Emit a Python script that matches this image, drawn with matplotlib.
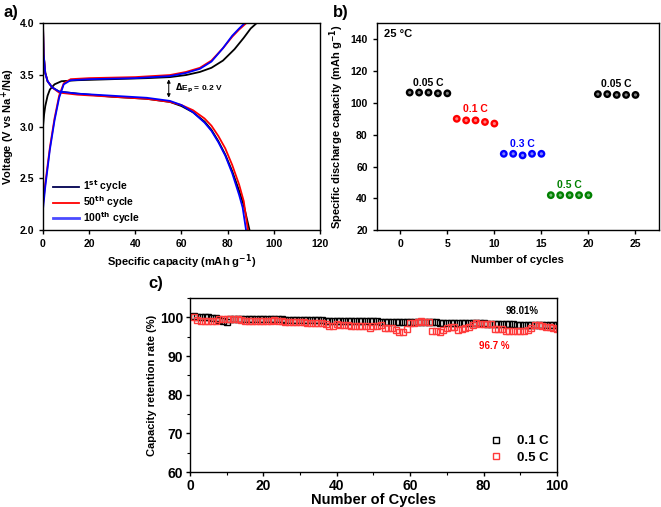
import matplotlib
matplotlib.use("Agg")
import matplotlib.pyplot as plt
from matplotlib.ticker import MultipleLocator

plt.rcParams['font.family'] = ['Liberation Sans', 'DejaVu Sans']
plt.rcParams['font.weight'] = 'bold'
plt.rcParams['axes.labelweight'] = 'bold'
plt.rcParams['mathtext.default'] = 'bf'
plt.rcParams['xtick.labelsize'] = 7.5
plt.rcParams['ytick.labelsize'] = 7.5
plt.rcParams['axes.linewidth'] = 1.0

# ---- panel a: charge / discharge profiles ----
chg1_cap = [0, 0.5, 1, 2, 3, 5, 8, 15, 30, 45, 55, 62, 68, 73, 78, 83, 87, 90, 92.5]
chg1_v = [3.0, 3.12, 3.2, 3.3, 3.36, 3.41, 3.44, 3.45, 3.46, 3.47, 3.48, 3.50, 3.53, 3.57, 3.64, 3.75, 3.86, 3.95, 4.0]
chg50_cap = [0, 1, 3, 5, 7, 9, 12, 20, 40, 55, 62, 68, 73, 78, 82, 85, 88]
chg50_v = [2.25, 2.45, 2.8, 3.08, 3.3, 3.42, 3.46, 3.47, 3.48, 3.50, 3.53, 3.57, 3.64, 3.76, 3.87, 3.94, 4.0]
chg100_cap = [0, 1, 3, 5, 7, 9, 12, 20, 40, 55, 62, 68, 73, 78, 82, 85, 87.3]
chg100_v = [2.2, 2.42, 2.78, 3.06, 3.28, 3.41, 3.45, 3.46, 3.47, 3.49, 3.52, 3.56, 3.63, 3.76, 3.88, 3.95, 4.0]

dis1_cap = [0, 0.3, 1, 2, 4, 7, 15, 30, 45, 55, 60, 65, 70, 73, 76, 79, 82, 85, 87, 89.5]
dis1_v = [4.0, 3.7, 3.52, 3.44, 3.38, 3.34, 3.32, 3.29, 3.27, 3.24, 3.20, 3.14, 3.05, 2.97, 2.86, 2.73, 2.57, 2.38, 2.24, 2.0]
dis50_cap = [0, 0.3, 1, 2, 4, 7, 15, 30, 45, 55, 60, 65, 70, 73, 76, 79, 82, 85, 87, 88.8]
dis50_v = [4.0, 3.7, 3.52, 3.44, 3.38, 3.33, 3.31, 3.29, 3.27, 3.24, 3.21, 3.16, 3.08, 3.01, 2.91, 2.79, 2.63, 2.44, 2.28, 2.0]
dis100_cap = [0, 0.3, 1, 2, 4, 7, 15, 30, 45, 55, 60, 65, 70, 73, 76, 79, 82, 85, 86.5, 88.0]
dis100_v = [4.0, 3.7, 3.52, 3.44, 3.38, 3.34, 3.32, 3.30, 3.28, 3.25, 3.21, 3.14, 3.04, 2.96, 2.85, 2.72, 2.55, 2.34, 2.22, 2.0]

# ---- panel b: rate capability ----
rate_cycles = [1, 2, 3, 4, 5, 6, 7, 8, 9, 10, 11, 12, 13, 14, 15,
               16, 17, 18, 19, 20, 21, 22, 23, 24, 25]
rate_caps = [106.5, 106.5, 106.5, 106, 106, 90, 89, 89, 88, 87,
             68, 68, 67, 68, 68, 42, 42, 42, 42, 42,
             105.5, 105.5, 105, 105, 105]
rate_labels = ['0.05 C', '0.1 C', '0.3 C', '0.5 C', '0.05 C']
rate_colors = ['black', 'red', 'blue', 'green', 'black']

# ---- panel c: cycling retention ----
cyc = list(range(1, 101))
ret_01C = [100.3, 100.2, 100.2, 100.1, 100.0, 99.9, 99.8, 99.4, 99.0, 98.9,
           99.6, 99.7, 99.7, 99.7, 99.7, 99.7, 99.6, 99.6, 99.6, 99.6,
           99.5, 99.5, 99.5, 99.5, 99.5, 99.4, 99.4, 99.4, 99.4, 99.4,
           99.3, 99.3, 99.3, 99.3, 99.3, 99.3, 99.2, 99.2, 99.2, 99.2,
           99.2, 99.1, 99.1, 99.1, 99.1, 99.1, 99.0, 99.0, 99.0, 99.0,
           99.0, 98.9, 98.9, 98.9, 98.9, 98.9, 98.8, 98.8, 98.8, 98.8,
           98.8, 98.7, 98.7, 98.7, 98.7, 98.7, 98.7, 98.6, 98.6, 98.6,
           98.6, 98.6, 98.6, 98.5, 98.5, 98.5, 98.5, 98.5, 98.5, 98.5,
           98.4, 98.4, 98.3, 98.3, 98.3, 98.2, 98.2, 98.2, 98.1, 98.1,
           98.1, 98.0, 98.0, 98.0, 98.1, 98.1, 98.1, 98.0, 98.0, 98.0]
ret_05C = [100.0, 99.3, 99.1, 99.0, 99.0, 99.0, 99.1, 99.6, 99.7, 99.7,
           99.6, 99.5, 99.5, 99.4, 99.2, 99.1, 99.2, 99.2, 99.2, 99.1,
           99.1, 99.2, 99.3, 99.2, 99.0, 98.9, 98.9, 98.9, 98.9, 98.8,
           98.8, 98.6, 98.6, 98.6, 98.5, 98.5, 98.4, 97.9, 97.9, 98.3,
           98.1, 98.0, 98.0, 97.9, 97.8, 97.8, 97.9, 97.8, 97.2, 97.7,
           97.7, 98.0, 97.2, 97.2, 97.3, 96.7, 96.3, 96.3, 97.1, 98.6,
           98.5, 98.7, 99.0, 98.9, 98.8, 96.5, 96.5, 96.2, 96.8, 97.3,
           97.5, 97.4, 96.8, 96.9, 97.2, 97.5, 98.1, 98.5, 98.4, 98.2,
           98.3, 98.4, 97.1, 97.1, 97.0, 96.5, 96.6, 96.6, 96.6, 96.5,
           96.6, 96.7, 97.3, 98.0, 98.1, 97.8, 97.6, 97.4, 97.3, 97.1]


def style_ax(ax):
    ax.tick_params(direction='out', length=3, width=1, which='major')
    ax.tick_params(direction='out', length=2, width=0.8, which='minor')


fig = plt.figure(figsize=(6.61, 5.07), dpi=100)

# panel a
ax1 = fig.add_axes([0.065, 0.546, 0.419, 0.408])
ax1.plot(chg1_cap, chg1_v, color='black', lw=1.3)
ax1.plot(dis1_cap, dis1_v, color='black', lw=1.3)
ax1.plot(chg50_cap, chg50_v, color='red', lw=1.3)
ax1.plot(dis50_cap, dis50_v, color='red', lw=1.3)
ax1.plot(chg100_cap, chg100_v, color='blue', lw=1.3)
ax1.plot(dis100_cap, dis100_v, color='blue', lw=1.3)
h1, = ax1.plot([], [], color='#000050', lw=1.3, label='1$^{st}$ cycle')
h2, = ax1.plot([], [], color='red', lw=1.3, label='50$^{th}$ cycle')
h3, = ax1.plot([], [], color='#4b4bff', lw=2.0, label='100$^{th}$ cycle')
ax1.legend(handles=[h1, h2, h3], loc='lower left', frameon=False, fontsize=7.5,
           handlelength=2.5, handletextpad=0.4, labelspacing=0.0,
           borderaxespad=0.0, bbox_to_anchor=(0.02, 0.0))
ax1.annotate('', xy=(54.5, 3.255), xytext=(54.5, 3.485),
             arrowprops=dict(arrowstyle='<|-|>', lw=0.7, color='black',
                             mutation_scale=5))
ax1.text(57, 3.37, '$\\Delta$E$_p$ = 0.2 V', fontsize=6, va='center')
ax1.set_xlim(0, 120)
ax1.set_ylim(2.0, 4.0)
ax1.xaxis.set_major_locator(MultipleLocator(20))
ax1.yaxis.set_major_locator(MultipleLocator(0.5))
ax1.set_xlabel('Specific capacity (mAh g$^{-1}$)', fontsize=8, labelpad=2)
ax1.set_ylabel('Voltage (V vs Na$^{+}$/Na)', fontsize=8, labelpad=2)
style_ax(ax1)

# panel b
ax2 = fig.add_axes([0.570, 0.546, 0.427, 0.408])
for i in range(5):
    xs = rate_cycles[i * 5:(i + 1) * 5]
    ys = rate_caps[i * 5:(i + 1) * 5]
    ax2.scatter(xs, ys, s=32, color=rate_colors[i], edgecolors='none', zorder=3)
    ax2.scatter(xs, ys, s=5, color='white', alpha=0.5, edgecolors='none', zorder=4)
    ax2.text(sum(xs) / 5, max(ys) + 3, rate_labels[i], color=rate_colors[i],
             fontsize=7.5, ha='center', va='bottom')
ax2.text(-1.7, 143, '25 °C', fontsize=8, va='center')
ax2.set_xlim(-2.5, 27.5)
ax2.set_ylim(20, 150)
ax2.xaxis.set_major_locator(MultipleLocator(5))
ax2.yaxis.set_major_locator(MultipleLocator(20))
ax2.set_xlabel('Number of cycles', fontsize=8, labelpad=4)
ax2.set_ylabel('Specific discharge capacity (mAh g$^{-1}$)', fontsize=8, labelpad=3)
style_ax(ax2)

# panel c
ax3 = fig.add_axes([0.2874, 0.069, 0.5553, 0.343])
ax3.plot(cyc, ret_01C, 's', mfc='none', mec='black', ms=4.3, mew=1.0, label='0.1 C')
ax3.plot(cyc, ret_05C, 's', mfc='none', mec='#ff3b3b', ms=4.3, mew=1.0, label='0.5 C')
ax3.text(90.5, 101.7, '98.01%', fontsize=7, ha='center', va='center')
ax3.text(83, 92.6, '96.7 %', fontsize=7, ha='center', va='center', color='red')
ax3.legend(loc='lower right', frameon=False, fontsize=9.5, handletextpad=0.6,
           labelspacing=0.35, borderaxespad=0.2)
ax3.set_xlim(0, 100)
ax3.set_ylim(60, 105)
ax3.xaxis.set_major_locator(MultipleLocator(20))
ax3.xaxis.set_minor_locator(MultipleLocator(10))
ax3.yaxis.set_major_locator(MultipleLocator(10))
ax3.yaxis.set_minor_locator(MultipleLocator(5))
ax3.set_xlabel('Number of Cycles', fontsize=10.5, labelpad=0)
ax3.set_ylabel('Capacity retention rate (%)', fontsize=8, labelpad=2)
ax3.tick_params(labelsize=10, pad=2)
style_ax(ax3)

fig.text(0.005, 0.975, 'a)', fontsize=12, va='center', ha='left')
fig.text(0.503, 0.975, 'b)', fontsize=12, va='center', ha='left')
fig.text(0.224, 0.44, 'c)', fontsize=12, va='center', ha='left')

fig.savefig('out.png', dpi=100)
